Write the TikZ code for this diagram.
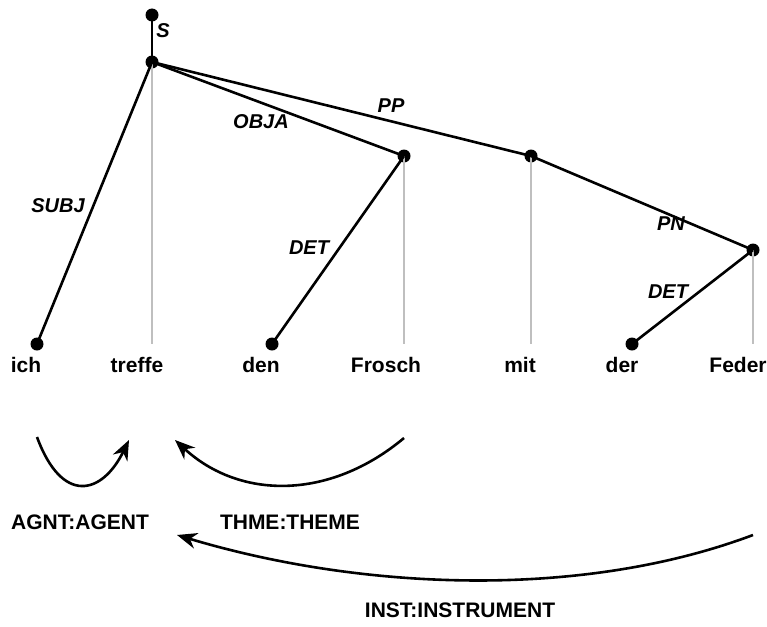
\documentclass[tikz,border=0pt]{standalone}
\usepackage{fontspec}
\setmainfont{Liberation Sans}
\usetikzlibrary{arrows.meta}
\begin{document}
\begin{tikzpicture}[x=1pt,y=-1pt,
  dot/.style={circle,fill=black,inner sep=0pt,minimum size=13pt},
  edge/.style={line width=2.6pt,black},
  proj/.style={line width=2pt,color=black!25},
  word/.style={font=\fontsize{21}{24}\selectfont\bfseries,anchor=base},
  lab/.style={font=\fontsize{20}{24}\selectfont\bfseries\itshape},
  role/.style={font=\fontsize{21}{24}\selectfont\bfseries},
  rarrow/.style={line width=2.6pt,-{Stealth[length=20pt,width=16pt]}}]
\useasboundingbox (0,0) rectangle (767,626);
% nodes
\node[dot] (top) at (152,15) {};
\node[dot] (s) at (152,62) {};
\node[dot] (ich) at (37,344) {};
\coordinate (tr) at (152,344);
\node[dot] (den) at (272,344) {};
\node[dot] (fro) at (404,156) {};
\coordinate (froB) at (404,344);
\node[dot] (mit) at (531,156) {};
\coordinate (mitB) at (531,344);
\node[dot] (der) at (632,344) {};
\node[dot] (fed) at (753,250) {};
\coordinate (fedB) at (753,344);
% projection lines
\draw[proj] (s.center) -- (tr);
\draw[proj] (fro.center) -- (froB);
\draw[proj] (mit.center) -- (mitB);
\draw[proj] (fed.center) -- (fedB);
% dependency edges
\draw[edge] (top.center) -- (s.center);
\draw[edge] (s.center) -- (ich.center);
\draw[edge] (s.center) -- (fro.center);
\draw[edge] (s.center) -- (mit.center);
\draw[edge] (fro.center) -- (den.center);
\draw[edge] (mit.center) -- (fed.center);
\draw[edge] (fed.center) -- (der.center);
% edge labels
\node[lab] (lS) at (163,31) {S};
\node[lab] (lSUBJ) at (58,206) {SUBJ};
\node[lab] (lOBJA) at (261,122) {OBJA};
\node[lab] (lPP) at (391,106) {PP};
\node[lab] (lDET1) at (309,248) {DET};
\node[lab] (lPN) at (671,224) {PN};
\node[lab] (lDET2) at (668,292) {DET};
% words
\node[word] (w1) at (26,372) {ich};
\node[word] (w2) at (137,372) {treffe};
\node[word] (w3) at (261,372) {den};
\node[word] (w4) at (386,372) {Frosch};
\node[word] (w5) at (520,372) {mit};
\node[word] (w6) at (622,372) {der};
\node[word] (w7) at (738,372) {Feder};
% role arrows
\coordinate (a1s) at (37,437);
\coordinate (a1e) at (129,440);
\coordinate (a2s) at (404,438);
\coordinate (a2e) at (175,440);
\coordinate (a3s) at (753,535);
\coordinate (a3e) at (177,535);
\draw[rarrow] (a1s) .. controls (62,505) and (102,495) .. (a1e);
\draw[rarrow] (a2s) .. controls (330,500) and (240,500) .. (a2e);
\draw[rarrow] (a3s) .. controls (580,600) and (360,590) .. (a3e);
% role labels
\node[role] (r1) at (80,522) {AGNT:AGENT};
\node[role] (r2) at (290,522) {THME:THEME};
\node[role] (r3) at (460,610) {INST:INSTRUMENT};
\end{tikzpicture}
\end{document}
